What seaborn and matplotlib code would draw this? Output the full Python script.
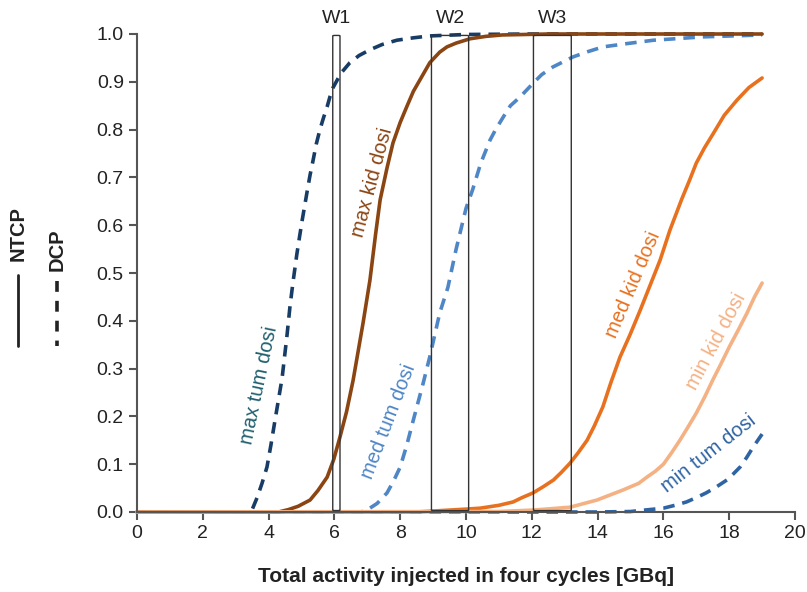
import numpy as np
import pandas as pd
import seaborn as sns
import matplotlib.pyplot as plt
from matplotlib.lines import Line2D
from matplotlib.patches import FancyBboxPatch

# ---- data ----
max_tum_x = [0, 3.4, 3.5, 3.65, 3.8, 3.95, 4.07, 4.19, 4.3, 4.41, 4.56, 4.65, 4.74, 4.86, 4.95, 5.02, 5.17, 5.26, 5.35, 5.45, 5.56, 5.67, 5.78, 5.87, 5.96, 6.2, 6.47, 6.75, 7.08, 7.45, 7.9, 8.4, 8.9, 10, 12, 19]
max_tum_y = [0, 0, 0.005, 0.03, 0.06, 0.094, 0.14, 0.19, 0.235, 0.28, 0.37, 0.43, 0.48, 0.54, 0.58, 0.61, 0.67, 0.705, 0.735, 0.77, 0.80, 0.825, 0.848, 0.87, 0.888, 0.918, 0.94, 0.955, 0.967, 0.978, 0.987, 0.992, 0.996, 0.999, 1.0, 1.0]

max_kid_x = [0, 4.3, 4.6, 4.9, 5.26, 5.5, 5.78, 5.98, 6.17, 6.37, 6.57, 6.87, 7.08, 7.25, 7.39, 7.6, 7.78, 8.0, 8.2, 8.4, 8.6, 8.9, 9.2, 9.42, 9.7, 10.12, 10.6, 11.1, 12.5, 19]
max_kid_y = [0, 0, 0.005, 0.012, 0.025, 0.045, 0.073, 0.11, 0.157, 0.21, 0.276, 0.395, 0.485, 0.58, 0.653, 0.72, 0.772, 0.815, 0.848, 0.88, 0.904, 0.94, 0.962, 0.973, 0.981, 0.99, 0.995, 0.998, 1.0, 1.0]

med_tum_x = [0, 6.8, 6.99, 7.3, 7.6, 7.8, 8.0, 8.2, 8.39, 8.7, 8.9, 9.2, 9.45, 9.7, 10.0, 10.2, 10.45, 10.73, 10.9, 11.13, 11.35, 11.64, 12.04, 12.3, 12.64, 13.25, 13.7, 14.16, 14.9, 15.7, 17.2, 19]
med_tum_y = [0, 0, 0.004, 0.018, 0.04, 0.065, 0.094, 0.14, 0.19, 0.27, 0.325, 0.416, 0.47, 0.55, 0.635, 0.674, 0.73, 0.778, 0.80, 0.826, 0.85, 0.868, 0.897, 0.915, 0.931, 0.952, 0.963, 0.973, 0.98, 0.987, 0.994, 0.998]

med_kid_x = [0, 8.5, 9.0, 9.5, 10.0, 10.43, 11.0, 11.43, 11.7, 12.04, 12.35, 12.66, 12.9, 13.16, 13.42, 13.68, 13.9, 14.16, 14.4, 14.68, 14.98, 15.3, 15.6, 15.9, 16.2, 16.56, 16.8, 17.0, 17.25, 17.5, 17.85, 18.24, 18.6, 19]
med_kid_y = [0, 0, 0.002, 0.004, 0.006, 0.008, 0.014, 0.021, 0.03, 0.04, 0.053, 0.067, 0.083, 0.102, 0.125, 0.15, 0.18, 0.22, 0.27, 0.324, 0.37, 0.423, 0.475, 0.527, 0.59, 0.655, 0.695, 0.73, 0.762, 0.79, 0.83, 0.862, 0.888, 0.908]

min_kid_x = [0, 11.0, 12.04, 13.16, 13.98, 14.77, 15.25, 15.5, 15.75, 16.0, 16.25, 16.5, 16.75, 17.0, 17.25, 17.5, 17.75, 18.0, 18.27, 18.54, 18.77, 19]
min_kid_y = [0, 0.001, 0.004, 0.01, 0.025, 0.046, 0.06, 0.073, 0.085, 0.10, 0.124, 0.15, 0.178, 0.207, 0.24, 0.276, 0.31, 0.345, 0.38, 0.416, 0.45, 0.479]

min_tum_x = [0, 14.0, 15.0, 16.0, 16.35, 16.7, 17.0, 17.3, 17.6, 17.93, 18.13, 18.33, 18.53, 18.73, 18.87, 19]
min_tum_y = [0, 0, 0.001, 0.008, 0.014, 0.021, 0.03, 0.04, 0.052, 0.067, 0.08, 0.094, 0.114, 0.136, 0.15, 0.163]

windows = ["W1", "W2", "W3"]
win_start = [5.95, 8.95, 12.05]
win_end = [6.17, 10.08, 13.2]

x_ticks = [0, 2, 4, 6, 8, 10, 12, 14, 16, 18, 20]
y_ticks = [0.0, 0.1, 0.2, 0.3, 0.4, 0.5, 0.6, 0.7, 0.8, 0.9, 1.0]

series = [
    # name, x, y, color, dashed, label color, lx, ly, rot
    ("min tum dosi", min_tum_x, min_tum_y, "#2f64a3", True, "#2f64a3", 17.36, 0.123, 38),
    ("med tum dosi", med_tum_x, med_tum_y, "#4f86c6", True, "#4f86c6", 7.64, 0.19, 69),
    ("max tum dosi", max_tum_x, max_tum_y, "#173d66", True, "#1f5f6e", 3.7, 0.266, 78),
    ("med kid dosi", med_kid_x, med_kid_y, "#e8711f", False, "#e8711f", 15.08, 0.475, 67),
    ("max kid dosi", max_kid_x, max_kid_y, "#8b4513", False, "#8b4513", 7.14, 0.69, 75),
    ("min kid dosi", min_kid_x, min_kid_y, "#f4b183", False, "#f4b183", 17.6, 0.356, 62),
]

sns.set_theme(style="ticks")
plt.rcParams['font.family'] = ['Liberation Sans', 'DejaVu Sans']

fig = plt.figure(figsize=(8.07, 5.92), dpi=100)
ax = fig.add_axes([137/807, 1-512/592, 658/807, 478/592])

for name, xs, ys, col, dashed, lcol, lx, ly, rot in series:
    df = pd.DataFrame({"x": xs, "y": ys})
    sns.lineplot(data=df, x="x", y="y", ax=ax, color=col, lw=2.6,
                 linestyle=(0, (3.2, 2.2)) if dashed else "-", clip_on=False,
                 estimator=None, sort=False)
    ax.text(lx, ly, name, color=lcol, rotation=rot, ha="center", va="center",
            fontsize=14.5, rotation_mode="anchor")

for w, s, e in zip(windows, win_start, win_end):
    ax.add_patch(FancyBboxPatch((s, 0.003), e - s, 0.994,
                                boxstyle="round,pad=0,rounding_size=0.05",
                                mutation_aspect=0.02,
                                fill=False, ec="#333333", lw=1.0, zorder=5,
                                clip_on=False))
    ax.text((s + e) / 2, 1.015, w, ha="center", va="bottom", fontsize=14, color="#222222")

ax.set_xlim(0, 20)
ax.set_ylim(0, 1)
ax.set_xticks(x_ticks)
ax.set_xticklabels([str(t) for t in x_ticks])
ax.set_yticks(y_ticks)
ax.set_yticklabels([f"{t:.1f}" for t in y_ticks])
ax.tick_params(axis="both", labelsize=14, colors="#555555", labelcolor="#222222",
               length=6, width=1.5, direction="out")
for sp in ["top", "right"]:
    ax.spines[sp].set_visible(False)
for sp in ["left", "bottom"]:
    ax.spines[sp].set_color("#555555")
    ax.spines[sp].set_linewidth(1.5)
ax.set_xlabel("Total activity injected in four cycles [GBq]", fontsize=15,
              fontweight="bold", color="#222222", labelpad=18)
ax.set_ylabel("")

# rotated legend at left
fig.text(18/807, 1-233/592, "NTCP", rotation=90, ha="center", va="center",
         fontsize=14.5, fontweight="bold", color="#222222")
fig.text(57/807, 1-250/592, "DCP", rotation=90, ha="center", va="center",
         fontsize=14.5, fontweight="bold", color="#222222")
fig.lines.append(Line2D([18/807, 18/807], [1-275/592, 1-346/592], transform=fig.transFigure,
                        color="#222222", lw=2))
fig.lines.append(Line2D([57/807, 57/807], [1-281/592, 1-346/592], transform=fig.transFigure,
                        color="#222222", lw=2.6, linestyle=(0, (3, 2.5))))

fig.savefig("out.png", dpi=100)
